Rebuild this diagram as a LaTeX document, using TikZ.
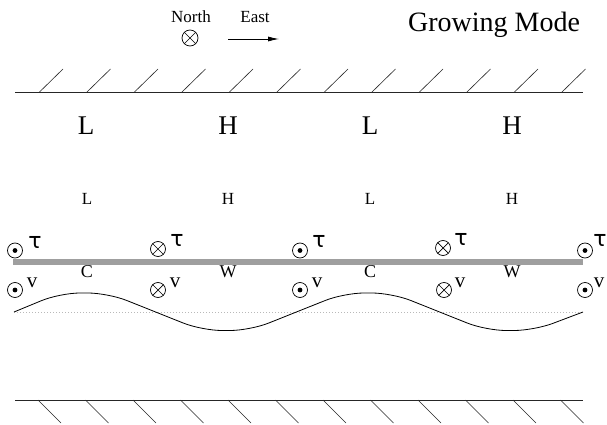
\documentclass[tikz,border=0pt]{standalone}
\usepackage{fontspec}
\setmainfont{Liberation Serif}
\newfontfamily\symfont{DejaVu Sans}
\usetikzlibrary{arrows.meta}
\begin{document}
\begin{tikzpicture}[x=1pt,y=-1pt,
  wall/.style={line width=0.8pt, black!85},
  hatch/.style={line width=0.6pt, black!85},
  sym/.style={circle, draw, line width=0.7pt, minimum size=15pt, inner sep=0pt},
  odotsym/.style={sym, path picture={\fill (path picture bounding box.center) circle (2.4pt);}},
  otimessym/.style={sym, path picture={\draw[line width=0.7pt]
      (path picture bounding box.center) ++(45:8pt) -- ++(225:16pt)
      (path picture bounding box.center) ++(135:8pt) -- ++(-45:16pt);}},
  biglab/.style={inner sep=0pt, font=\fontsize{27}{27}\selectfont},
  smalllab/.style={inner sep=0pt, font=\fontsize{17}{17}\selectfont},
  cwlab/.style={inner sep=0pt, font=\fontsize{18}{18}\selectfont},
  taulab/.style={inner sep=0pt, font=\symfont\fontsize{22}{22}\selectfont},
  vlab/.style={inner sep=0pt, font=\fontsize{21}{21}\selectfont},
  dirlab/.style={inner sep=0pt, font=\fontsize{17}{17}\selectfont},
  titlelab/.style={inner sep=0pt, font=\fontsize{28}{28}\selectfont},
]
\useasboundingbox (0,0) rectangle (607,425);

% compass
\node[dirlab] (north) at (191,17) {North};
\node[otimessym, minimum size=16pt] (northsym) at (190,38) {};
\node[dirlab] (east) at (255,17) {East};
\coordinate (ea) at (228,39);
\coordinate (eb) at (279,39);
\draw[line width=0.8pt, -{Latex[length=11pt,width=5pt]}] (ea) -- (eb);
\node[titlelab] (title) at (494,25) {Growing Mode};

% walls
\draw[wall] (15,92.5) -- (583,92.5);
\foreach \i in {0,...,11} {
  \draw[hatch] ({39+47.5*\i},92.5) -- ++(24,-23.5);
}
\draw[wall] (15,400) -- (583,400);
\foreach \i in {0,...,11} {
  \draw[hatch] ({38+47.5*\i},400) -- ++(23,23);
}

% pressure labels
\node[biglab] (L1) at (86,126) {L};
\node[biglab] (H1) at (228,126) {H};
\node[biglab] (L2) at (370,126) {L};
\node[biglab] (H2) at (512,126) {H};
\node[smalllab] (l1) at (87,198.5) {L};
\node[smalllab] (h1) at (228,198.5) {H};
\node[smalllab] (l2) at (370,198.5) {L};
\node[smalllab] (h2) at (512,198.5) {H};

% interface bar
\draw[line width=6pt, gray!75] (13,262) -- (583,262);

% tau row
\node[odotsym] (t1) at (15,250.5) {};
\node[otimessym] (t2) at (158,249) {};
\node[odotsym] (t3) at (300,250.5) {};
\node[otimessym] (t4) at (443,248) {};
\node[odotsym] (t5) at (585,250.5) {};
\node[taulab] (tau1) at (35,242) {τ};
\node[taulab] (tau2) at (177,240) {τ};
\node[taulab] (tau3) at (319,241) {τ};
\node[taulab] (tau4) at (461,239) {τ};
\node[taulab] (tau5) at (600,240) {τ};

% C / W
\node[cwlab] (c1) at (87,272) {C};
\node[cwlab] (w1) at (228,272) {W};
\node[cwlab] (c2) at (370,272) {C};
\node[cwlab] (w2) at (512,272) {W};

% v row
\node[odotsym] (v1) at (15,290) {};
\node[otimessym] (v2) at (158,290) {};
\node[odotsym] (v3) at (300,290) {};
\node[otimessym] (v4) at (444,290) {};
\node[odotsym] (v5) at (585,290) {};
\node[vlab] (vl1) at (32,283) {v};
\node[vlab] (vl2) at (175,283) {v};
\node[vlab] (vl3) at (317,283) {v};
\node[vlab] (vl4) at (460,283) {v};
\node[vlab] (vl5) at (599,283) {v};

% reference level and wave
\draw[gray!55, line width=0.6pt, dash pattern=on 0.7pt off 2.3pt] (14,312.5) -- (583,312.5);
\draw[line width=0.8pt, rounded corners=20pt]
  (14,312) -- (60,293) -- (108,293) -- (202,330.5) -- (250,330.5)
  -- (344,293) -- (392,293) -- (486,330.5) -- (534,330.5) -- (583,312);
\end{tikzpicture}
\end{document}
